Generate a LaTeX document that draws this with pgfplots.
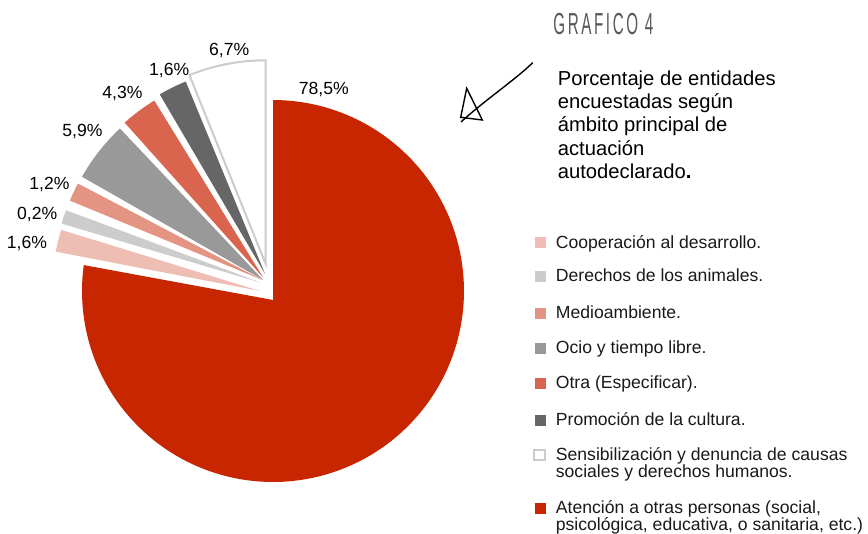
\documentclass[border=0pt]{standalone}
\usepackage{fontspec}
\setmainfont{Liberation Sans}
\newfontfamily\headfont[LetterSpace=17]{Liberation Sans}
\usepackage{graphicx}
\usepackage{pgfplots}
\pgfplotsset{compat=1.18}

\definecolor{atencion}{RGB}{200,38,0}
\definecolor{coop}{RGB}{238,190,180}
\definecolor{derechos}{RGB}{204,204,204}
\definecolor{medio}{RGB}{228,148,130}
\definecolor{ocio}{RGB}{153,153,153}
\definecolor{otra}{RGB}{217,101,78}
\definecolor{promo}{RGB}{102,102,102}
\definecolor{sensib}{RGB}{204,204,204}

% wedge: vertex x, vertex y, radius, from angle, to angle, colour
% (coordinates are picture pixels, y downwards; angles as drawn in the reference)
\newcommand{\slice}[6]{%
  \addplot[fill=#6, draw=none, domain=#4:#5, samples=40, variable=\t]
    ({#1+#3*cos(\t)}, {#2-#3*sin(\t)}) -- (axis cs:#1,#2) -- cycle;
}
\newcommand{\pct}[3]{\node[anchor=base, inner sep=0pt, font=\fontsize{8.8}{10}\selectfont] at (axis cs:#1,#2) {#3};}
\newcommand{\leg}[3]{\node[anchor=base west, inner sep=0pt, font=\fontsize{8.8}{10}\selectfont, text=black!90] at (axis cs:#1,#2) {#3};}
\newcommand{\tit}[2]{\node[anchor=base west, inner sep=0pt, font=\fontsize{10.1}{12}\selectfont] at (axis cs:557.5,#1) {#2};}

\begin{document}
\begin{tikzpicture}
\begin{axis}[
  name=ax,
  width=434pt, height=267pt, scale only axis,
  xmin=0, xmax=868, ymin=0, ymax=534,
  y dir=reverse, hide axis, clip=false,
]
  % Atención a otras personas 78,5%
  \addplot[fill=atencion, draw=none, domain=-187.8:90, samples=150, variable=\t]
    ({273+191*cos(\t)}, {291-191*sin(\t)}) -- (axis cs:273,300) -- cycle;
  \slice{260}{291}{208}{162.9}{169.1}{coop}       % Cooperación 1,6%
  \slice{261}{282.7}{208}{159.6}{163.5}{derechos} % Derechos animales 0,2%
  \slice{262.2}{279.9}{208}{152.4}{157.6}{medio}  % Medioambiente 1,2%
  \slice{263.5}{280.3}{209}{133.4}{150.3}{ocio}   % Ocio 5,9%
  \slice{263.3}{277.7}{208}{121.6}{131.8}{otra}   % Otra 4,3%
  \slice{265}{273.8}{208}{112.4}{120.4}{promo}    % Promoción 1,6%
  % Sensibilización 6,7%
  \addplot[fill=white, draw=sensib, line width=1pt, domain=90:112, samples=40, variable=\t]
    ({265.7+203.7*cos(\t)}, {264-203.7*sin(\t)}) -- (axis cs:265.7,264) -- cycle;

  \pct{323.8}{94.3}{78,5\%}
  \pct{229.2}{56}{6,7\%}
  \pct{169.2}{75.7}{1,6\%}
  \pct{122.5}{98.3}{4,3\%}
  \pct{82.5}{136.7}{5,9\%}
  \pct{49.5}{190}{1,2\%}
  \pct{37.2}{219.3}{0,2\%}
  \pct{27}{248.3}{1,6\%}

  % legend keys
  \addplot[only marks, mark=square*, mark size=2.5pt, color=coop] coordinates {(540,242.7)};
  \addplot[only marks, mark=square*, mark size=2.5pt, color=derechos] coordinates {(540,276)};
  \addplot[only marks, mark=square*, mark size=2.5pt, color=medio] coordinates {(540,313.3)};
  \addplot[only marks, mark=square*, mark size=2.5pt, color=ocio] coordinates {(540,348.3)};
  \addplot[only marks, mark=square*, mark size=2.5pt, color=otra] coordinates {(540,383.3)};
  \addplot[only marks, mark=square*, mark size=2.5pt, color=promo] coordinates {(540,420)};
  \addplot[only marks, mark=square, mark size=2.6pt, color=sensib, mark options={line width=1pt, fill=white}] coordinates {(539.5,455)};
  \addplot[only marks, mark=square*, mark size=2.5pt, color=atencion] coordinates {(540,508.3)};

  \leg{555.5}{248.3}{Cooperación al desarrollo.}
  \leg{555.5}{281.6}{Derechos de los animales.}
  \leg{555.5}{318.9}{Medioambiente.}
  \leg{555.5}{353.9}{Ocio y tiempo libre.}
  \leg{555.5}{388.9}{Otra (Especificar).}
  \leg{555.5}{425.6}{Promoción de la cultura.}
  \leg{555.5}{460.7}{Sensibilización y denuncia de causas}
  \leg{555.5}{477.6}{sociales y derechos humanos.}
  \leg{555.5}{513.3}{Atención a otras personas (social,}
  \leg{555.5}{530.2}{psicológica, educativa, o sanitaria, etc.)}

  % heading
  \node[anchor=base west, inner sep=0pt, text=black!65] at (axis cs:553,35)
    {\scalebox{0.5}[1]{\headfont\fontsize{15.2}{16}\selectfont GRAFICO 4}};
  \tit{85.5}{Porcentaje de entidades}
  \tit{108.7}{encuestadas según}
  \tit{131.9}{ámbito principal de}
  \tit{155.1}{actuación}
  \tit{178.3}{autodeclarado\textbf{.}}

  % hand-drawn arrow
  \draw[line width=0.7pt] (axis cs:532.7,62.7) .. controls (axis cs:515,80) and (axis cs:485,100) .. (axis cs:461,122);
  \draw[line width=0.7pt] (axis cs:466.7,88.3) -- (axis cs:482.3,120) -- (axis cs:460.7,117.3) -- cycle;
\end{axis}
\pgfresetboundingbox
\useasboundingbox (ax.south west) rectangle (ax.north east);
\end{tikzpicture}
\end{document}
